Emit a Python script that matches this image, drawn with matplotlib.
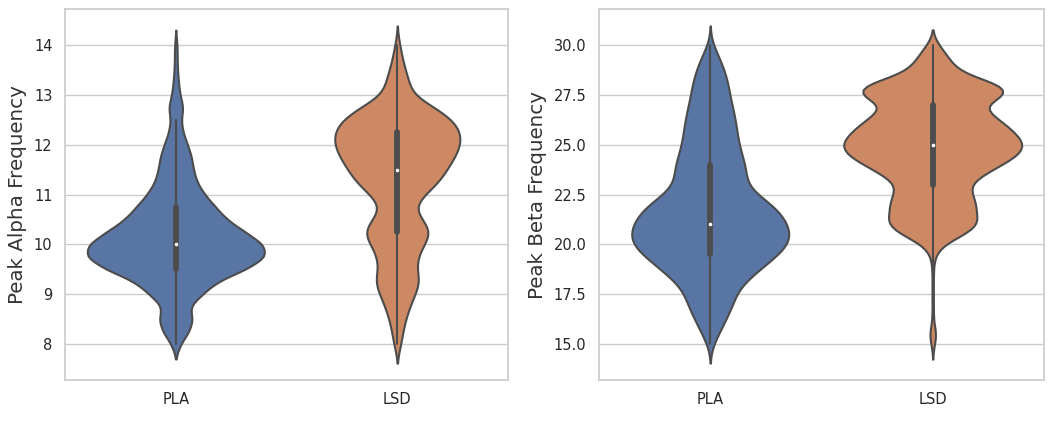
"""Violin plots of peak alpha / beta frequency, PLA vs LSD."""
import numpy as np
import matplotlib
matplotlib.use("Agg")
import matplotlib.pyplot as plt
from matplotlib.collections import PolyCollection
import seaborn as sns

groups = ["PLA", "LSD"]
colors = ["#4C72B0", "#DD8452"]

# peak alpha frequency: value grid and how many observations sit at each value
alpha_values = [8.0, 8.25, 8.5, 8.75, 9.0, 9.25, 9.5, 9.75, 10.0, 10.25, 10.5,
                10.75, 11.0, 11.25, 11.5, 11.75, 12.0, 12.25, 12.5, 12.75, 13.0,
                13.25, 13.5, 13.75, 14.0]
alpha_pla = [14, 40, 52, 38, 80, 120, 210, 270, 262, 205, 150,
             118, 85, 62, 52, 47, 35, 21, 15, 23, 12,
             8, 5, 4, 4]
alpha_lsd = [12, 16, 25, 37, 53, 70, 56, 60, 80, 106, 74,
             45, 82, 125, 148, 172, 190, 190, 168, 112, 42,
             36, 24, 14, 8]

# peak beta frequency
beta_values = [15.0, 15.5, 16.0, 16.5, 17.0, 17.5, 18.0, 18.5, 19.0, 19.5, 20.0,
               20.5, 21.0, 21.5, 22.0, 22.5, 23.0, 23.5, 24.0, 24.5, 25.0,
               25.5, 26.0, 26.5, 27.0, 27.5, 28.0, 28.5, 29.0, 29.5, 30.0]
beta_pla = [10, 26, 42, 57, 72, 80, 100, 137, 175, 214, 248,
            252, 244, 224, 196, 145, 112, 114, 110, 99, 90,
            85, 81, 76, 68, 61, 57, 49, 38, 25, 8]
beta_lsd = [5, 12, 3, 2, 2, 2, 2, 2, 3, 8, 30,
            95, 140, 128, 130, 118, 106, 150, 205, 258, 275,
            250, 218, 175, 140, 230, 215, 95, 60, 42, 18]

sns.set_theme(style="whitegrid")
plt.rcParams["font.family"] = ["DejaVu Sans"]


def violins(ax, values, counts_pla, counts_lsd, label, label_x):
    y = np.concatenate([np.repeat(values, counts_pla), np.repeat(values, counts_lsd)])
    x = ["PLA"] * sum(counts_pla) + ["LSD"] * sum(counts_lsd)
    # one colour so all violins share the same area scaling, recoloured below
    sns.violinplot(x=x, y=y, order=groups, color=colors[0], ax=ax,
                   bw_method=0.15, cut=2, linewidth=1.5, linecolor="#4c4c4c",
                   saturation=0.75, inner="box",
                   inner_kws=dict(box_width=4.2, whis_width=1.5, marker="o"))
    bodies = [c for c in ax.collections if isinstance(c, PolyCollection)]
    for body, c in zip(bodies, colors):
        body.set_facecolor(sns.desaturate(c, 0.75))
    for ln in ax.lines:
        if ln.get_marker() == "o":
            ln.set_markersize(2.6)
            ln.set_markeredgewidth(0)
            ln.set_color("white")
    ax.set_xlabel("")
    ax.set_ylabel(label, fontsize=14.3, color=".2")
    ax.yaxis.set_label_coords(label_x, 0.5)
    ax.yaxis.label.set_va("center")
    ax.tick_params(labelsize=10.5, pad=9, length=0, labelcolor=".15")
    ax.xaxis.grid(False)


fig = plt.figure(figsize=(10.56, 4.21), dpi=100)
ax1 = fig.add_axes([0.0616, 0.0974, 0.4195, 0.8812])
ax2 = fig.add_axes([0.5672, 0.0974, 0.4214, 0.8812])

violins(ax1, alpha_values, alpha_pla, alpha_lsd, "Peak Alpha Frequency", -0.107)
violins(ax2, beta_values, beta_pla, beta_lsd, "Peak Beta Frequency", -0.139)

fig.savefig("out.png", dpi=100)
